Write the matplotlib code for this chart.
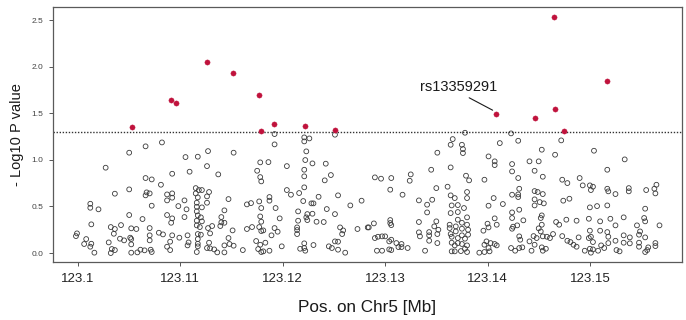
import matplotlib
matplotlib.use("Agg")
import matplotlib.pyplot as plt
import numpy as np

plt.rcParams["font.family"] = ["Liberation Sans", "DejaVu Sans"]

# SNPs not reaching significance: (position Mb, -log10 P)
pos_ns = [
    # 123.100 - 123.107
    123.1066, 123.1050, 123.1027, 123.1066, 123.1072, 123.1036, 123.1050, 123.1067, 123.1066, 123.1070,
    123.1072, 123.1012, 123.1012, 123.1020, 123.1050, 123.1063, 123.1013, 123.1032, 123.1036, 123.1042,
    123.1052, 123.1057, 123.1070, 123.0999, 123.0998, 123.1035, 123.1070, 123.1008, 123.1041, 123.1045,
    123.1051, 123.1052, 123.1070, 123.1030, 123.1006, 123.1013, 123.1012, 123.1052, 123.1016, 123.1033,
    123.1036, 123.1032, 123.1052, 123.1058, 123.1061, 123.1065, 123.1071, 123.1072,
    # 123.108 - 123.118
    123.1082, 123.1127, 123.1152, 123.1105, 123.1117, 123.1126, 123.1178, 123.1092, 123.1109, 123.1137,
    123.1175, 123.1178, 123.1179, 123.1081, 123.1115, 123.1118, 123.1121, 123.1128, 123.1087, 123.1092,
    123.1092, 123.1115, 123.1117, 123.1126, 123.1147, 123.1087, 123.1104, 123.1116, 123.1126, 123.1165,
    123.1169, 123.1177, 123.1098, 123.1116, 123.1121, 123.1106, 123.1143, 123.1116, 123.1179, 123.1178,
    123.1087, 123.1092, 123.1104, 123.1117, 123.1120, 123.1140, 123.1091, 123.1116, 123.1121, 123.1140,
    123.1143, 123.1179, 123.1116, 123.1119, 123.1127, 123.1131, 123.1139, 123.1165, 123.1170, 123.1177,
    123.1151, 123.1079, 123.1083, 123.1092, 123.1107, 123.1117, 123.1120, 123.1129, 123.1179, 123.1099,
    123.1117, 123.1147, 123.1090, 123.1108, 123.1117, 123.1128, 123.1174, 123.1087, 123.1107, 123.1117,
    123.1129, 123.1133, 123.1143, 123.1148, 123.1152, 123.1178, 123.1090, 123.1116, 123.1126, 123.1136,
    123.1143, 123.1161, 123.1176, 123.1179,
    # 123.118 - 123.128
    123.1192, 123.1251, 123.1221, 123.1226, 123.1221, 123.1192, 123.1223, 123.1186, 123.1204, 123.1222,
    123.1229, 123.1242, 123.1221, 123.1221, 123.1247, 123.1241, 123.1221, 123.1204, 123.1208, 123.1216,
    123.1187, 123.1187, 123.1220, 123.1228, 123.1230, 123.1235, 123.1254, 123.1277, 123.1266, 123.1193,
    123.1215, 123.1224, 123.1229, 123.1243, 123.1251, 123.1197, 123.1215, 123.1223, 123.1224, 123.1233,
    123.1240, 123.1181, 123.1192, 123.1195, 123.1189, 123.1214, 123.1214, 123.1214, 123.1256, 123.1259,
    123.1258, 123.1273, 123.1283, 123.1183, 123.1187, 123.1199, 123.1217, 123.1221, 123.1221, 123.1222,
    123.1230, 123.1245, 123.1248, 123.1251, 123.1254, 123.1254, 123.1261, 123.1181,
    # 123.128 - 123.138
    123.1378, 123.1366, 123.1364, 123.1375, 123.1376, 123.1376, 123.1351, 123.1345, 123.1364, 123.1290,
    123.1296, 123.1306, 123.1325, 123.1324, 123.1379, 123.1382, 123.1305, 123.1317, 123.1350, 123.1361,
    123.1364, 123.1368, 123.1380, 123.1380, 123.1333, 123.1346, 123.1341, 123.1365, 123.1371, 123.1377,
    123.1341, 123.1364, 123.1371, 123.1380, 123.1305, 123.1305, 123.1306, 123.1284, 123.1289, 123.1333,
    123.1350, 123.1348, 123.1352, 123.1351, 123.1363, 123.1369, 123.1371, 123.1375, 123.1380, 123.1381,
    123.1333, 123.1334, 123.1343, 123.1343, 123.1343, 123.1351, 123.1363, 123.1364, 123.1369, 123.1375,
    123.1365, 123.1371, 123.1375, 123.1378, 123.1381, 123.1290, 123.1293, 123.1297, 123.1300, 123.1304,
    123.1306, 123.1311, 123.1316, 123.1316, 123.1322, 123.1292, 123.1297, 123.1304, 123.1306, 123.1313,
    123.1339, 123.1365, 123.1368, 123.1371, 123.1375, 123.1380, 123.1365, 123.1368, 123.1374, 123.1378,
    123.1380,
    # 123.139 - 123.149
    123.1423, 123.1472, 123.1412, 123.1430, 123.1453, 123.1466, 123.1401, 123.1407, 123.1407, 123.1424,
    123.1441, 123.1450, 123.1424, 123.1446, 123.1454, 123.1397, 123.1430, 123.1473, 123.1478, 123.1431,
    123.1446, 123.1449, 123.1454, 123.1424, 123.1430, 123.1430, 123.1446, 123.1451, 123.1455, 123.1474,
    123.1480, 123.1406, 123.1401, 123.1415, 123.1446, 123.1431, 123.1424, 123.1407, 123.1424, 123.1435,
    123.1453, 123.1452, 123.1467, 123.1477, 123.1487, 123.1400, 123.1401, 123.1409, 123.1396, 123.1425,
    123.1429, 123.1424, 123.1450, 123.1453, 123.1452, 123.1470, 123.1399, 123.1397, 123.1403, 123.1407,
    123.1409, 123.1401, 123.1392, 123.1397, 123.1402, 123.1431, 123.1432, 123.1423, 123.1427, 123.1431,
    123.1434, 123.1441, 123.1445, 123.1448, 123.1446, 123.1454, 123.1458, 123.1464, 123.1461, 123.1453,
    123.1454, 123.1457, 123.1473, 123.1478, 123.1481, 123.1484, 123.1487, 123.1443,
    # 123.149 - 123.157
    123.1504, 123.1534, 123.1517, 123.1490, 123.1493, 123.1500, 123.1503, 123.1501, 123.1517, 123.1518,
    123.1525, 123.1538, 123.1538, 123.1555, 123.1565, 123.1563, 123.1564, 123.1500, 123.1507, 123.1517,
    123.1554, 123.1499, 123.1510, 123.1520, 123.1533, 123.1553, 123.1554, 123.1568, 123.1546, 123.1489,
    123.1500, 123.1499, 123.1501, 123.1510, 123.1517, 123.1518, 123.1525, 123.1533, 123.1539, 123.1549,
    123.1548, 123.1554, 123.1503, 123.1495, 123.1500, 123.1503, 123.1501, 123.1511, 123.1514, 123.1518,
    123.1525, 123.1526, 123.1529, 123.1533, 123.1539, 123.1548, 123.1548, 123.1554, 123.1556, 123.1557,
    123.1564, 123.1564, 123.1508,
]
logp_ns = [
    1.145, 1.077, 0.916, 0.805, 0.790, 0.637, 0.683, 0.651, 0.619, 0.640,
    0.508, 0.529, 0.486, 0.469, 0.408, 0.365, 0.308, 0.279, 0.258, 0.300,
    0.265, 0.258, 0.268, 0.211, 0.182, 0.207, 0.190, 0.150, 0.154, 0.136,
    0.165, 0.150, 0.136, 0.114, 0.097, 0.100, 0.068, 0.093, 0.004, 0.043,
    0.032, 0.000, 0.004, 0.007, 0.036, 0.029, 0.036, 0.011,
    1.187, 1.094, 1.077, 1.030, 1.034, 0.933, 0.973, 0.851, 0.873, 0.844,
    0.883, 0.815, 0.769, 0.733, 0.697, 0.676, 0.676, 0.655, 0.629, 0.640,
    0.594, 0.640, 0.597, 0.608, 0.579, 0.565, 0.565, 0.540, 0.540, 0.522,
    0.536, 0.554, 0.504, 0.497, 0.490, 0.469, 0.458, 0.447, 0.483, 0.393,
    0.408, 0.372, 0.386, 0.404, 0.383, 0.386, 0.325, 0.347, 0.340, 0.329,
    0.325, 0.336, 0.297, 0.279, 0.268, 0.290, 0.290, 0.258, 0.279, 0.279,
    0.243, 0.218, 0.200, 0.190, 0.190, 0.204, 0.197, 0.211, 0.236, 0.165,
    0.150, 0.161, 0.122, 0.114, 0.100, 0.111, 0.129, 0.068, 0.082, 0.072,
    0.050, 0.039, 0.082, 0.097, 0.079, 0.089, 0.032, 0.011, 0.054, 0.007,
    0.007, 0.032, 0.043, 0.011,
    1.277, 1.270, 1.241, 1.230, 1.198, 1.166, 1.091, 0.976, 0.933, 0.998,
    0.962, 0.959, 0.894, 0.823, 0.837, 0.780, 0.705, 0.676, 0.626, 0.644,
    0.601, 0.562, 0.558, 0.533, 0.533, 0.604, 0.619, 0.562, 0.511, 0.483,
    0.447, 0.418, 0.422, 0.472, 0.418, 0.372, 0.347, 0.383, 0.354, 0.336,
    0.333, 0.243, 0.268, 0.229, 0.190, 0.275, 0.247, 0.204, 0.275, 0.243,
    0.204, 0.258, 0.275, 0.111, 0.025, 0.072, 0.046, 0.104, 0.054, 0.025,
    0.086, 0.072, 0.054, 0.125, 0.122, 0.036, 0.004, 0.018,
    1.291, 1.223, 1.162, 1.162, 1.116, 1.073, 1.077, 0.894, 0.919, 0.812,
    0.798, 0.805, 0.844, 0.776, 0.830, 0.780, 0.680, 0.626, 0.697, 0.712,
    0.619, 0.590, 0.590, 0.655, 0.565, 0.572, 0.519, 0.511, 0.515, 0.483,
    0.436, 0.429, 0.440, 0.383, 0.354, 0.322, 0.300, 0.275, 0.318, 0.333,
    0.340, 0.286, 0.250, 0.204, 0.304, 0.286, 0.358, 0.325, 0.304, 0.250,
    0.222, 0.179, 0.225, 0.190, 0.132, 0.107, 0.268, 0.204, 0.232, 0.261,
    0.175, 0.161, 0.190, 0.154, 0.197, 0.161, 0.175, 0.179, 0.179, 0.125,
    0.143, 0.107, 0.097, 0.064, 0.054, 0.025, 0.025, 0.039, 0.032, 0.064,
    0.025, 0.111, 0.082, 0.107, 0.097, 0.082, 0.018, 0.018, 0.021, 0.046,
    0.011,
    1.284, 1.209, 1.180, 1.205, 1.109, 1.055, 1.037, 0.984, 0.944, 0.955,
    0.984, 0.984, 0.876, 0.883, 0.819, 0.787, 0.805, 0.787, 0.751, 0.690,
    0.665, 0.655, 0.633, 0.626, 0.629, 0.601, 0.576, 0.547, 0.533, 0.562,
    0.583, 0.590, 0.508, 0.526, 0.511, 0.465, 0.436, 0.372, 0.376, 0.351,
    0.404, 0.376, 0.333, 0.358, 0.347, 0.315, 0.275, 0.304, 0.240, 0.283,
    0.297, 0.261, 0.265, 0.304, 0.232, 0.304, 0.125, 0.089, 0.107, 0.097,
    0.082, 0.054, 0.004, 0.011, 0.018, 0.179, 0.143, 0.054, 0.025, 0.054,
    0.061, 0.125, 0.182, 0.161, 0.089, 0.179, 0.175, 0.204, 0.161, 0.061,
    0.025, 0.046, 0.182, 0.132, 0.118, 0.089, 0.068, 0.025,
    1.098, 1.005, 0.894, 0.805, 0.726, 0.726, 0.712, 0.676, 0.690, 0.662,
    0.633, 0.697, 0.662, 0.676, 0.733, 0.690, 0.640, 0.490, 0.504, 0.511,
    0.476, 0.368, 0.340, 0.368, 0.383, 0.376, 0.340, 0.297, 0.297, 0.168,
    0.240, 0.161, 0.175, 0.240, 0.225, 0.175, 0.297, 0.190, 0.168, 0.232,
    0.197, 0.168, 0.118, 0.025, 0.046, 0.039, 0.004, 0.082, 0.054, 0.107,
    0.132, 0.032, 0.018, 0.111, 0.104, 0.111, 0.068, 0.011, 0.032, 0.061,
    0.107, 0.075, 0.025,
]

# SNPs with P < 0.05
pos_sig = [123.1053, 123.1091, 123.1096, 123.1126, 123.1151, 123.1177, 123.1179, 123.1191,
           123.1222, 123.1251, 123.1408, 123.1446, 123.1465, 123.1466, 123.1475, 123.1517]
logp_sig = [1.352, 1.645, 1.609, 2.046, 1.931, 1.695, 1.310, 1.384,
            1.363, 1.317, 1.488, 1.445, 2.532, 1.545, 1.306, 1.849]

threshold = -np.log10(0.05)
snp_label = "rs13359291"
snp_pos, snp_logp = 123.1408, 1.488

xticks = [123.10, 123.11, 123.12, 123.13, 123.14, 123.15]
xtick_labels = ["123.1", "123.11", "123.12", "123.13", "123.14", "123.15"]
yticks = [0.0, 0.5, 1.0, 1.5, 2.0, 2.5]

fig = plt.figure(figsize=(6.86, 3.2), dpi=100)
ax = fig.add_axes([0.0773, 0.181, 0.9169, 0.797])

ax.scatter(pos_ns, logp_ns, s=12, facecolors="none", edgecolors="#3a3a3a", linewidths=0.6, zorder=2)
ax.scatter(pos_sig, logp_sig, s=14, color="#c0123c", edgecolors="#c0123c", linewidths=0.3, zorder=3)
ax.axhline(threshold, color="#333333", lw=1.0, ls=(0, (1, 1.2)), zorder=1)

ax.annotate(snp_label, xy=(snp_pos - 0.0003, snp_logp + 0.045), xytext=(snp_pos - 0.0036, snp_logp + 0.29),
            ha="center", va="center", fontsize=10.5, color="#1a1a1a",
            arrowprops=dict(arrowstyle="-", color="#1a1a1a", lw=0.8, shrinkA=1, shrinkB=0,
                            relpos=(0.55, 0.0)))

ax.set_xlim(123.09756, 123.159)
ax.set_ylim(-0.097, 2.64)
ax.set_xticks(xticks)
ax.set_xticklabels(xtick_labels, fontsize=9.5, color="#222222")
ax.set_yticks(yticks)
ax.set_yticklabels([f"{v:.1f}" for v in yticks], fontsize=6, color="#444444")
ax.tick_params(axis="both", direction="out", length=3, width=0.7, color="#555555")
ax.tick_params(axis="y", pad=4)
ax.tick_params(axis="x", pad=5)
for sp in ax.spines.values():
    sp.set_color("#5a5a5a")
    sp.set_linewidth(0.9)

ax.set_xlabel("Pos. on Chr5 [Mb]", fontsize=12.3, color="#1a1a1a", labelpad=11)
ax.set_ylabel("- Log10 P value", fontsize=10.5, color="#1a1a1a", labelpad=5)

fig.savefig("out.png", dpi=100)
